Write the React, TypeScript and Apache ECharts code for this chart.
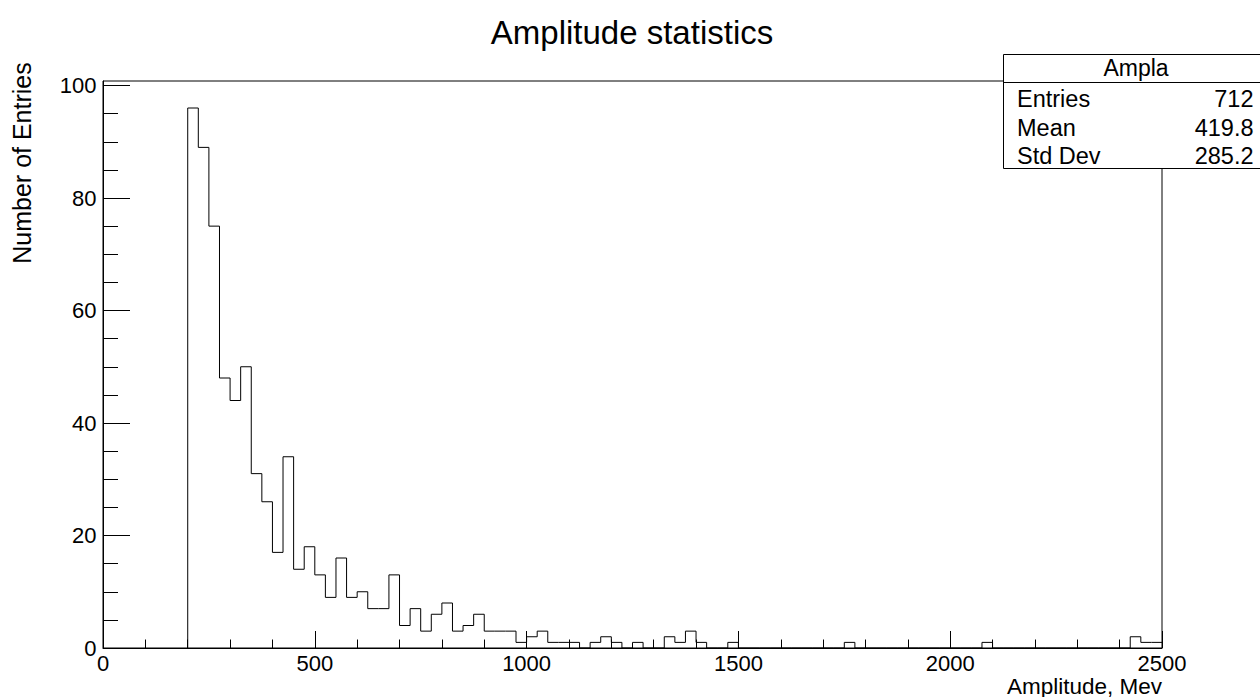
import React, { useEffect, useRef } from "react";
import * as echarts from "echarts";

const FONT = "'Liberation Sans', Arial, Helvetica, sans-serif";

// Histogram: bins of 25 starting at 200 (bins below 200 are empty)
const binStart = 200;
const binWidth = 25;
const binCounts = [
  96, 89, 75, 48, 44, 50, 31, 26, 17, 34, 14, 18, 13, 9, 16, 9, 10, 7, 7, 13,
  4, 7, 3, 6, 8, 3, 4, 6, 3, 3, 3, 1, 2, 3, 1, 1, 1, 0, 1, 2,
  1, 0, 1, 0, 0, 2, 1, 3, 1, 0, 0, 1, 0, 0, 0, 0, 0, 0, 0, 0,
  0, 0, 1, 0, 0, 0, 0, 0, 0, 0, 0, 0, 0, 0, 0, 1, 0, 0, 0, 0,
  0, 0, 0, 0, 0, 0, 0, 0, 0, 2, 1, 1,
];

const xMin = 0;
const xMax = 2500;
const xInterval = 500;
const yMin = 0;
const yMax = 100.8;
const yMajorTicks = [0, 20, 40, 60, 80, 100];
const yMinorTicks = [5, 10, 15, 25, 30, 35, 45, 50, 55, 65, 70, 75, 85, 90, 95];

const titleText = "Amplitude statistics";
const xTitle = "Amplitude, Mev";
const yTitle = "Number of Entries";
const statsName = "Ampla";
const statsLabels = ["Entries", "Mean", "Std Dev"];
const statsValues = ["712", "419.8", "285.2"];

export default function App() {
  const ref = useRef<HTMLDivElement>(null);

  useEffect(() => {
    if (!ref.current) return;
    const chart = echarts.init(ref.current, undefined, { renderer: "svg" });

    const stepData: number[][] = [[binStart, 0]];
    binCounts.forEach((c, i) => stepData.push([binStart + i * binWidth, c]));
    stepData.push([binStart + binCounts.length * binWidth, binCounts[binCounts.length - 1]]);

    const black = { color: "#000", width: 1 };
    const statsRowY = [99, 127.5, 156];

    const graphic: any[] = [
      {
        type: "text",
        x: 632,
        y: 32,
        z: 100,
        style: { text: titleText, font: `33px ${FONT}`, fill: "#000", align: "center", verticalAlign: "middle" },
      },
      {
        type: "text",
        x: 1162,
        y: 686,
        z: 100,
        style: { text: xTitle, font: `22.5px ${FONT}`, fill: "#000", align: "right", verticalAlign: "middle" },
      },
      {
        type: "text",
        x: 22,
        y: 163,
        rotation: Math.PI / 2,
        z: 100,
        style: { text: yTitle, font: `25px ${FONT}`, fill: "#000", align: "center", verticalAlign: "middle" },
      },
      {
        type: "rect",
        z: 100,
        shape: { x: 1003.5, y: 54.5, width: 280, height: 114 },
        style: { fill: "#fff", stroke: "#000", lineWidth: 1 },
      },
      {
        type: "line",
        z: 101,
        shape: { x1: 1003.5, y1: 82.5, x2: 1270, y2: 82.5 },
        style: { stroke: "#000", lineWidth: 1 },
      },
      {
        type: "text",
        x: 1136,
        y: 68,
        z: 102,
        style: { text: statsName, font: `23px ${FONT}`, fill: "#000", align: "center", verticalAlign: "middle" },
      },
    ];
    statsLabels.forEach((lab, i) => {
      graphic.push({
        type: "text",
        x: 1017,
        y: statsRowY[i],
        z: 102,
        style: { text: lab, font: `23.5px ${FONT}`, fill: "#000", align: "left", verticalAlign: "middle" },
      });
      graphic.push({
        type: "text",
        x: 1253.5,
        y: statsRowY[i],
        z: 102,
        style: { text: statsValues[i], font: `23.5px ${FONT}`, fill: "#000", align: "right", verticalAlign: "middle" },
      });
    });

    chart.setOption({
      animation: false,
      backgroundColor: "#fff",
      grid: {
        left: 103,
        right: 98,
        top: 81,
        bottom: 49,
        show: true,
        borderColor: "#000",
        borderWidth: 1,
        backgroundColor: "transparent",
      },
      xAxis: {
        type: "value",
        min: xMin,
        max: xMax,
        interval: xInterval,
        axisLine: { show: true, onZero: false, lineStyle: black },
        axisTick: { show: true, inside: true, length: 17, lineStyle: black },
        minorTick: { show: true, splitNumber: 5, length: 8.5, lineStyle: black },
        splitLine: { show: false },
        minorSplitLine: { show: false },
        axisLabel: {
          color: "#000",
          fontSize: 22,
          fontFamily: FONT,
          margin: 4,
          formatter: (v: number) => String(v),
        },
      },
      yAxis: [
        {
          type: "value",
          min: yMin,
          max: yMax,
          position: "left",
          axisLine: { show: true, onZero: false, lineStyle: black },
          axisTick: { show: true, inside: true, length: 27, customValues: yMajorTicks, lineStyle: black },
          axisLabel: {
            show: true,
            customValues: yMajorTicks,
            color: "#000",
            fontSize: 22,
            fontFamily: FONT,
            margin: 6.5,
            formatter: (v: number) => String(v),
          },
          splitLine: { show: false },
        },
        {
          type: "value",
          min: yMin,
          max: yMax,
          position: "left",
          offset: 0,
          axisLine: { show: false },
          axisTick: { show: true, inside: true, length: 15, customValues: yMinorTicks, lineStyle: black },
          axisLabel: { show: false },
          splitLine: { show: false },
        },
      ],
      series: [
        {
          type: "line",
          data: stepData,
          step: "end",
          symbol: "none",
          showSymbol: false,
          silent: true,
          lineStyle: { color: "#000", width: 1 },
          yAxisIndex: 0,
        },
      ],
      graphic,
    });

    return () => chart.dispose();
  }, []);

  return (
    <div
      ref={ref}
      style={{ position: "absolute", left: 0, top: 0, width: 1260, height: 697 }}
    />
  );
}
